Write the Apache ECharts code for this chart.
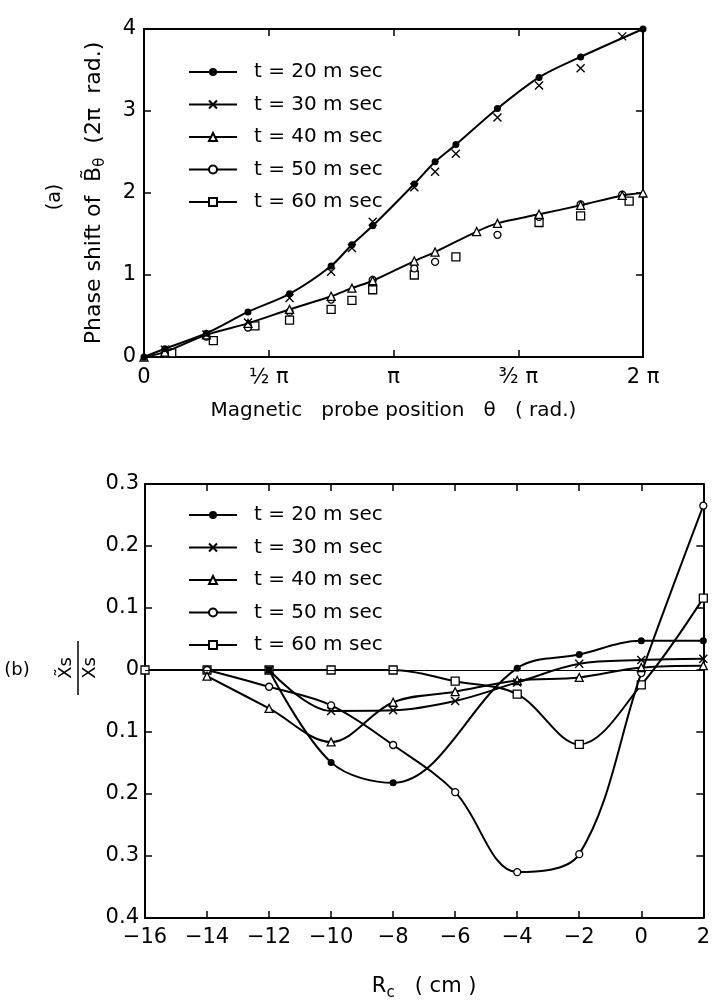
<!DOCTYPE html>
<html>
<head>
<meta charset="utf-8">
<script src="https://cdn.jsdelivr.net/npm/echarts@6/dist/echarts.min.js"></script>
<style>html,body{margin:0;padding:0;background:#fff}#c{width:713px;height:1004px}</style>
</head>
<body>
<div id="c"></div>
<script>
// ---------- legend / series names ----------
const seriesNames = ['t = 20 m sec', 't = 30 m sec', 't = 40 m sec', 't = 50 m sec', 't = 60 m sec'];

// ---------- panel (a): probe angle (degrees) vs phase shift (2π rad) ----------
const thetaTickLabels = ['0', '½ π', 'π', '³⁄₂ π', '2 π'];
const theta20 = [0, 15, 45, 75, 105, 135, 150, 165, 195, 210, 225, 255, 285, 315, 360];
const phase20 = [0, 0.10, 0.29, 0.55, 0.77, 1.11, 1.37, 1.60, 2.11, 2.38, 2.59, 3.03, 3.41, 3.66, 4.00];
const theta30 = [15, 45, 75, 105, 135, 150, 165, 195, 210, 225, 255, 285, 315, 345];
const phase30 = [0.09, 0.275, 0.42, 0.72, 1.04, 1.33, 1.65, 2.07, 2.26, 2.48, 2.92, 3.31, 3.52, 3.91];
const theta40 = [0, 15, 45, 75, 105, 135, 150, 165, 195, 210, 240, 255, 285, 315, 345, 360];
const phase40 = [0, 0.06, 0.27, 0.41, 0.58, 0.74, 0.84, 0.93, 1.17, 1.28, 1.53, 1.63, 1.74, 1.85, 1.97, 2.00];
const theta50 = [15, 45, 75, 105, 135, 165, 195, 210, 255, 285, 315, 345];
const phase50 = [0.04, 0.25, 0.36, 0.55, 0.70, 0.94, 1.08, 1.16, 1.49, 1.71, 1.86, 1.98];
const theta60 = [20, 50, 80, 105, 135, 150, 165, 195, 225, 285, 315, 350];
const phase60 = [0.05, 0.20, 0.38, 0.45, 0.58, 0.69, 0.82, 1.00, 1.22, 1.64, 1.72, 1.90];

// ---------- panel (b): Rc (cm) vs Xs~/Xs ----------
const rc20 = [-12, -10, -8, -4, -2, 0, 2];
const amp20 = [0, -0.149, -0.182, 0.003, 0.025, 0.047, 0.047];
const rc30 = [-12, -10, -8, -6, -4, -2, 0, 2];
const amp30 = [0, -0.066, -0.065, -0.05, -0.02, 0.01, 0.016, 0.018];
const rc40 = [-14, -12, -10, -8, -6, -4, -2, 0, 2];
const amp40 = [-0.01, -0.062, -0.116, -0.052, -0.035, -0.017, -0.012, 0.004, 0.007];
const rc50 = [-14, -12, -10, -8, -6, -4, -2, 0, 2];
const amp50 = [0, -0.027, -0.057, -0.121, -0.197, -0.326, -0.297, -0.005, 0.265];
const rc60 = [-16, -14, -12, -10, -8, -6, -4, -2, 0, 2];
const amp60 = [0, 0, 0, 0, 0, -0.018, -0.039, -0.12, -0.024, 0.116];

// ---------- build ----------
const FONT = 'DejaVu Sans';
const BLACK = '#000';
const zip = (a, b) => a.map((v, i) => [v, b[i]]);

const markerStyles = [
  { symbol: 'circle', symbolSize: 7, itemStyle: { color: BLACK, borderColor: BLACK, borderWidth: 0 } },
  { symbol: 'path://M0,0L10,10M10,0L0,10', symbolSize: 8, itemStyle: { color: 'rgba(0,0,0,0)', borderColor: BLACK, borderWidth: 1.4 } },
  { symbol: 'triangle', symbolSize: 8, itemStyle: { color: '#fff', borderColor: BLACK, borderWidth: 1.3 } },
  { symbol: 'circle', symbolSize: 7, itemStyle: { color: '#fff', borderColor: BLACK, borderWidth: 1.3 } },
  { symbol: 'rect', symbolSize: 8, itemStyle: { color: '#fff', borderColor: BLACK, borderWidth: 1.3 } }
];

const topData = [zip(theta20, phase20), zip(theta30, phase30), zip(theta40, phase40), zip(theta50, phase50), zip(theta60, phase60)];
const topCurve = [true, false, true, false, false];
const botData = [zip(rc20, amp20), zip(rc30, amp30), zip(rc40, amp40), zip(rc50, amp50), zip(rc60, amp60)];

const series = [];
seriesNames.forEach((name, i) => {
  series.push(Object.assign({
    name, type: 'line', xAxisIndex: 0, yAxisIndex: 0, data: topData[i],
    smooth: 0.3, clip: false, z: 5 - i,
    lineStyle: { color: BLACK, width: 2, opacity: topCurve[i] ? 1 : 0 }
  }, markerStyles[i]));
});
seriesNames.forEach((name, i) => {
  const s = Object.assign({
    name, type: 'line', xAxisIndex: 2, yAxisIndex: 2, data: botData[i],
    smooth: 0.35, clip: false, z: 5 - i,
    lineStyle: { color: BLACK, width: 2 }
  }, markerStyles[i]);
  if (i === 4) {
    s.markLine = { silent: true, symbol: ['none', 'none'], label: { show: false },
      lineStyle: { color: BLACK, width: 1, type: 'solid' }, data: [{ yAxis: 0 }] };
  }
  series.push(s);
});

const legendItems = seriesNames.map(n => ({ name: n, lineStyle: { color: BLACK, width: 2, opacity: 1 } }));
const legendBase = {
  orient: 'vertical', left: 183, itemWidth: 48, itemHeight: 10, itemGap: 12.5,
  selectedMode: false, data: legendItems,
  textStyle: { fontFamily: FONT, fontSize: 20, color: BLACK, lineHeight: 20, padding: [0, 0, 0, 12] }
};

const tickLabel = { fontFamily: FONT, fontSize: 21, color: BLACK };
const axisLine = { show: true, onZero: false, lineStyle: { color: BLACK, width: 2 } };
const tickIn = { show: true, inside: true, length: 7, lineStyle: { color: BLACK, width: 1.5 } };

function frameAxis(gridIndex, pos, min, max, interval) {
  return { type: 'value', gridIndex, position: pos, min, max, interval,
    axisLine, axisTick: tickIn, axisLabel: { show: false }, splitLine: { show: false } };
}

const option = {
  animation: false,
  backgroundColor: '#fff',
  textStyle: { fontFamily: FONT },
  grid: [
    { left: 144, right: 70, top: 29, bottom: 647, show: false },
    { left: 145, right: 7, top: 484, bottom: 86, show: false }
  ],
  xAxis: [
    { type: 'value', gridIndex: 0, position: 'bottom', min: 0, max: 360, interval: 90,
      axisLine, axisTick: tickIn, splitLine: { show: false },
      axisLabel: Object.assign({ margin: 10, formatter: v => thetaTickLabels[Math.round(v / 90)] }, tickLabel),
      name: 'Magnetic   probe position   θ   ( rad.)', nameLocation: 'middle', nameGap: 44,
      nameTextStyle: { fontFamily: FONT, fontSize: 20, color: BLACK } },
    frameAxis(0, 'top', 0, 360, 90),
    { type: 'value', gridIndex: 1, position: 'bottom', min: -16, max: 2, interval: 2,
      axisLine, axisTick: tickIn, splitLine: { show: false },
      axisLabel: Object.assign({ margin: 9, formatter: v => (v < 0 ? '−' + Math.abs(v) : String(v)) }, tickLabel),
      name: 'R{s|c}   ( cm )', nameLocation: 'middle', nameGap: 54,
      nameTextStyle: { fontFamily: FONT, fontSize: 21, color: BLACK,
        rich: { s: { fontFamily: FONT, fontSize: 15, color: BLACK, verticalAlign: 'bottom', padding: [14, 0, 0, 0] } } } },
    frameAxis(1, 'top', -16, 2, 2)
  ],
  yAxis: [
    { type: 'value', gridIndex: 0, position: 'left', min: 0, max: 4, interval: 1,
      axisLine, axisTick: tickIn, splitLine: { show: false },
      axisLabel: Object.assign({ margin: 8 }, tickLabel),
      name: 'Phase shift of  B̃{s|θ}  (2π  rad.)', nameLocation: 'middle', nameGap: 36,
      nameTextStyle: { fontFamily: FONT, fontSize: 22, color: BLACK,
        rich: { s: { fontFamily: FONT, fontSize: 15, color: BLACK, verticalAlign: 'bottom', padding: [12, 0, 0, 0] } } } },
    frameAxis(0, 'right', 0, 4, 1),
    { type: 'value', gridIndex: 1, position: 'left', min: -0.4, max: 0.3, interval: 0.1,
      axisLine, axisTick: tickIn, splitLine: { show: false },
      axisLabel: Object.assign({ margin: 6, formatter: v => (Math.abs(v) < 1e-9 ? '0' : Math.abs(v).toFixed(1)) }, tickLabel) },
    frameAxis(1, 'right', -0.4, 0.3, 0.1)
  ],
  legend: [
    Object.assign({ top: 57 }, legendBase),
    Object.assign({ top: 500 }, legendBase)
  ],
  graphic: [
    { type: 'text', x: 55, y: 197, rotation: Math.PI / 2,
      style: { text: '(a)', font: '19px "DejaVu Sans"', fill: BLACK, align: 'center', verticalAlign: 'middle' } },
    { type: 'text', x: 17, y: 670,
      style: { text: '(b)', font: '18px "DejaVu Sans"', fill: BLACK, align: 'center', verticalAlign: 'middle' } },
    { type: 'group', x: 78, y: 668, rotation: Math.PI / 2, children: [
      { type: 'text', x: 0, y: -3, style: { text: 'X̃s', font: '18px "DejaVu Sans"', fill: BLACK, align: 'center', verticalAlign: 'bottom' } },
      { type: 'line', shape: { x1: -27, y1: 0, x2: 27, y2: 0 }, style: { stroke: BLACK, lineWidth: 1.5 } },
      { type: 'text', x: 0, y: 3, style: { text: 'Xs', font: '18px "DejaVu Sans"', fill: BLACK, align: 'center', verticalAlign: 'top' } }
    ] }
  ],
  series
};

const chart = echarts.init(document.getElementById('c'), null, { renderer: 'canvas' });
chart.setOption(option);
</script>
</body>
</html>
